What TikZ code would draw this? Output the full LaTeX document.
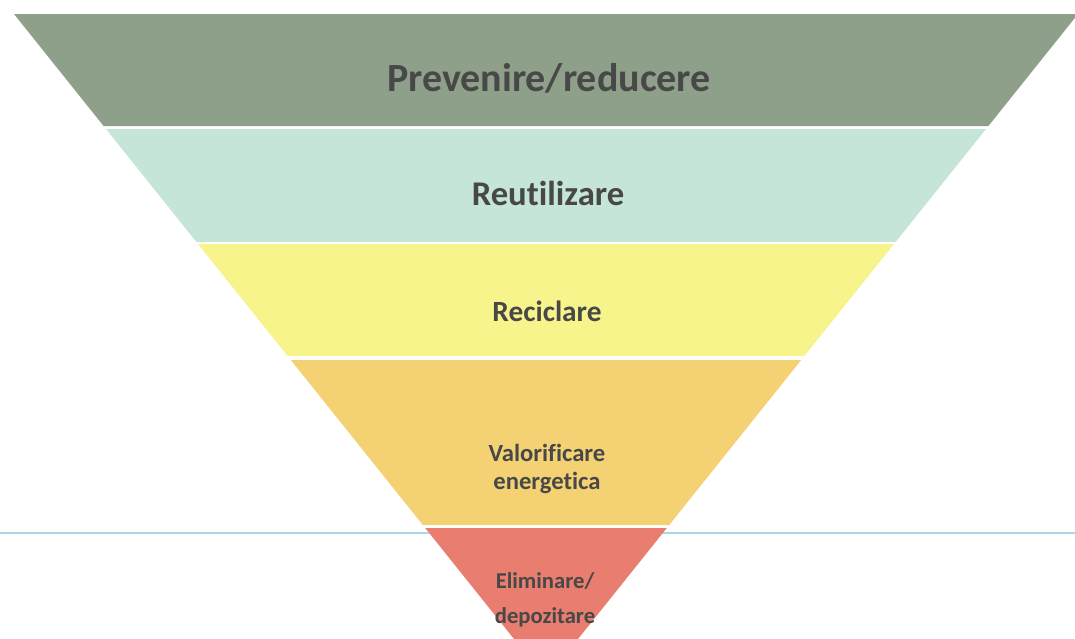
\documentclass[tikz,border=0pt]{standalone}
\usepackage{fontspec}
\setmainfont{Carlito}[Ligatures={NoCommon}]
\definecolor{bandA}{RGB}{143,160,138}
\definecolor{bandB}{RGB}{197,230,215}
\definecolor{bandC}{RGB}{248,244,140}
\definecolor{bandD}{RGB}{244,210,115}
\definecolor{bandE}{RGB}{232,125,112}
\definecolor{txtc}{RGB}{72,72,72}
\definecolor{linec}{RGB}{170,215,232}
\tikzset{
  lbl/.style={text=txtc, font=\bfseries, align=center, inner sep=0pt},
}
\begin{document}
\begin{tikzpicture}[x=0.75pt,y=-0.75pt]
\useasboundingbox (0,0) rectangle (1075,639);
\begin{scope}
\clip (0,0) rectangle (1075,639);
\fill[bandA] (14,14) -- (1078,14) -- (988.4,126) -- (103.6,126) -- cycle;
\fill[bandB] (106,129) -- (986,129) -- (895.6,242) -- (196.4,242) -- cycle;
\fill[bandC] (198,244) -- (894,244) -- (804.4,356) -- (287.6,356) -- cycle;
\fill[bandD] (290.8,360) -- (801.2,360) -- (669.2,525) -- (422.8,525) -- cycle;
\draw[linec, line width=1.5pt] (0,533) -- (1075,533);
\fill[bandE] (425.2,528) -- (666.8,528) -- (546,679) -- cycle;
\end{scope}
\node[lbl, font=\bfseries\fontsize{30}{36}\selectfont] (prev) at (549,78) {Prevenire/reducere};
\node[lbl, font=\bfseries\fontsize{26}{31}\selectfont] (reut) at (548,193) {Reutilizare};
\node[lbl, font=\bfseries\fontsize{22}{26}\selectfont] (recl) at (547,311) {Reciclare};
\node[lbl, font=\bfseries\fontsize{18.5}{21}\selectfont] (valo) at (547,469) {Valorificare\\energetica};
\node[lbl, font=\bfseries\fontsize{17}{26}\selectfont] (elim) at (545,600) {Eliminare/\\depozitare};
\end{tikzpicture}
\end{document}
